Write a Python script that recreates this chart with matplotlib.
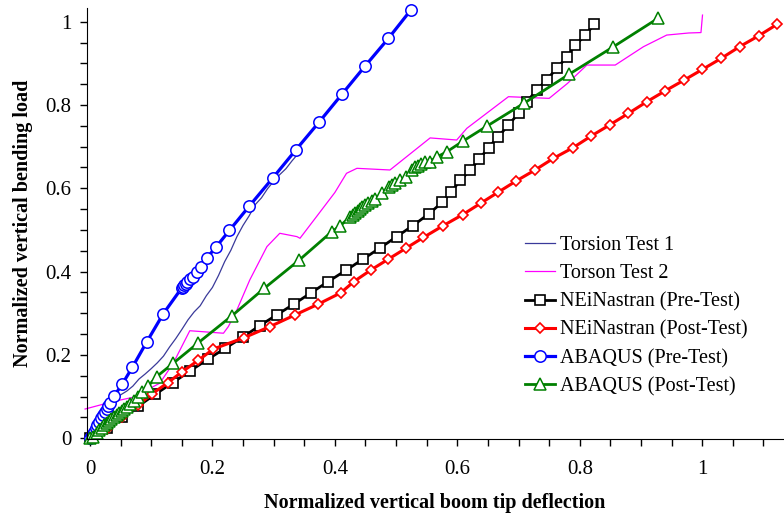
import matplotlib
matplotlib.use("Agg")
import matplotlib.pyplot as plt
from matplotlib.ticker import MultipleLocator

plt.rcParams['font.family'] = ['Liberation Serif', 'DejaVu Serif']

# Torsion Test 1 (thin navy line)
t1_x = [0.0, 0.01, 0.02, 0.03, 0.04, 0.05, 0.06, 0.07, 0.08, 0.09, 0.10, 0.11, 0.12, 0.13,
        0.14, 0.15, 0.16, 0.17, 0.18, 0.19, 0.20, 0.21, 0.22, 0.23, 0.24, 0.25, 0.26, 0.27,
        0.28, 0.29, 0.30, 0.31, 0.32, 0.33, 0.337]
t1_y = [0.0, 0.026, 0.05, 0.071, 0.089, 0.104, 0.113, 0.125, 0.142, 0.154, 0.167, 0.181,
        0.197, 0.219, 0.239, 0.261, 0.284, 0.303, 0.318, 0.342, 0.362, 0.391, 0.424, 0.451,
        0.484, 0.511, 0.534, 0.561, 0.577, 0.599, 0.617, 0.633, 0.647, 0.666, 0.678]

# Torson Test 2 (thin magenta line)
t2_x = [-0.008, 0.038, 0.07, 0.114, 0.136, 0.163, 0.218, 0.226, 0.24, 0.261, 0.289, 0.31,
        0.338, 0.343, 0.37, 0.40, 0.419, 0.436, 0.49, 0.5556, 0.599, 0.6155, 0.6835, 0.75,
        0.78, 0.8116, 0.858, 0.904, 0.942, 0.978, 0.998, 1.0005]
t2_y = [0.070, 0.088, 0.098, 0.132, 0.18, 0.258, 0.252, 0.268, 0.308, 0.38, 0.46, 0.492,
        0.484, 0.48, 0.532, 0.59, 0.636, 0.648, 0.644, 0.721, 0.716, 0.744, 0.82, 0.816,
        0.852, 0.896, 0.896, 0.94, 0.968, 0.973, 0.974, 1.016]

# NEiNastran (Pre-Test)
nei_pre_x = [0.0, 0.027, 0.052, 0.079, 0.106, 0.135, 0.163, 0.192, 0.221, 0.25, 0.277,
             0.305, 0.333, 0.361, 0.389, 0.418, 0.446, 0.474, 0.501, 0.527, 0.553, 0.575,
             0.590, 0.605, 0.621, 0.636, 0.651, 0.667, 0.6835, 0.700, 0.7135, 0.730, 0.746,
             0.7626, 0.779, 0.7925, 0.809, 0.824]
nei_pre_y = [0.0, 0.024, 0.05, 0.077, 0.105, 0.133, 0.161, 0.189, 0.216, 0.243, 0.27,
             0.296, 0.322, 0.349, 0.376, 0.403, 0.43, 0.457, 0.484, 0.51, 0.538, 0.566,
             0.592, 0.619, 0.644, 0.670, 0.698, 0.724, 0.752, 0.780, 0.808, 0.836, 0.861,
             0.888, 0.916, 0.943, 0.968, 0.994]

# NEiNastran (Post-Test)
nei_post_x = [0.0, 0.027, 0.053, 0.078, 0.102, 0.127, 0.151, 0.177, 0.2015, 0.252, 0.294,
              0.335, 0.373, 0.4096, 0.431, 0.459, 0.4874, 0.516, 0.5446, 0.576, 0.609,
              0.638, 0.666, 0.696, 0.727, 0.757, 0.789, 0.8186, 0.8486, 0.8796, 0.9096,
              0.9395, 0.9706, 1.0005, 1.031, 1.061, 1.092, 1.122]
nei_post_y = [0.0, 0.022, 0.051, 0.079, 0.107, 0.133, 0.160, 0.187, 0.214, 0.2415, 0.268,
              0.296, 0.322, 0.349, 0.376, 0.404, 0.430, 0.456, 0.482, 0.5095, 0.537,
              0.564, 0.590, 0.6175, 0.644, 0.672, 0.6975, 0.7255, 0.752, 0.780, 0.808,
              0.834, 0.860, 0.8856, 0.912, 0.940, 0.966, 0.9935]

# ABAQUS (Pre-Test)
abq_pre_x = [0.0, 0.003, 0.006, 0.009, 0.012, 0.015, 0.018, 0.021, 0.024, 0.027, 0.030,
             0.0327, 0.0397, 0.0528, 0.0691, 0.0926, 0.1198, 0.150, 0.152, 0.154, 0.156,
             0.158, 0.163, 0.168, 0.174, 0.181, 0.1907, 0.2064, 0.2276, 0.2603, 0.2985,
             0.3361, 0.3742, 0.4113, 0.4493, 0.4874, 0.524]
abq_pre_y = [0.0, 0.008, 0.016, 0.024, 0.032, 0.040, 0.048, 0.056, 0.064, 0.071, 0.078,
             0.0847, 0.102, 0.130, 0.170, 0.231, 0.299, 0.361, 0.364, 0.367, 0.370,
             0.374, 0.382, 0.388, 0.398, 0.410, 0.4327, 0.4598, 0.4987, 0.5575, 0.6247,
             0.692, 0.759, 0.8255, 0.8935, 0.960, 1.028]

# ABAQUS (Post-Test)
abq_post_x = [0.0, 0.005, 0.011, 0.015, 0.019, 0.023, 0.027, 0.031, 0.035, 0.040, 0.044,
              0.048, 0.052, 0.056, 0.060, 0.066, 0.072, 0.078, 0.085, 0.095, 0.109, 0.136,
              0.176, 0.2315, 0.2848, 0.342, 0.395, 0.4085, 0.425, 0.429, 0.433, 0.437,
              0.441, 0.445, 0.449, 0.454, 0.460, 0.466, 0.4766, 0.488, 0.493, 0.498,
              0.5065, 0.516, 0.526, 0.531, 0.536, 0.541, 0.547, 0.555, 0.5665, 0.583,
              0.61, 0.648, 0.7097, 0.7827, 0.855, 0.9276]
abq_post_y = [0.0, 0.004, 0.012, 0.019, 0.0255, 0.031, 0.036, 0.041, 0.046, 0.051, 0.055,
              0.060, 0.065, 0.070, 0.076, 0.083, 0.090, 0.099, 0.110, 0.125, 0.148, 0.180,
              0.228, 0.2935, 0.360, 0.428, 0.496, 0.5095, 0.532, 0.537, 0.541, 0.546,
              0.550, 0.555, 0.559, 0.564, 0.570, 0.575, 0.588, 0.603, 0.608, 0.612,
              0.620, 0.628, 0.645, 0.650, 0.654, 0.658, 0.662, 0.664, 0.675, 0.688,
              0.714, 0.749, 0.805, 0.874, 0.940, 1.008]

labels = ["Torsion Test 1", "Torson Test 2", "NEiNastran (Pre-Test)",
          "NEiNastran (Post-Test)", "ABAQUS (Pre-Test)", "ABAQUS (Post-Test)"]
tick_vals = [0, 0.2, 0.4, 0.6, 0.8, 1.0]
tick_text = ['0', '0.2', '0.4', '0.6', '0.8', '1']

W, H = 784, 514
fig = plt.figure(figsize=(W / 100, H / 100), dpi=100)
ax = fig.add_axes([86.7 / W, 1 - 439 / H, (783 - 86.7) / W, (439 - 8) / H])

ax.plot(t1_x, t1_y, color='#3a3a9a', lw=0.9, label=labels[0], clip_on=False)
ax.plot(t2_x, t2_y, color='#ff00ff', lw=0.9, label=labels[1], clip_on=False)
ax.plot(nei_pre_x, nei_pre_y, color='black', lw=2.0, marker='s', ms=7.2,
        mfc='white', mec='black', mew=1.2, label=labels[2], clip_on=False)
ax.plot(nei_post_x, nei_post_y, color='#ff0000', lw=2.2, marker='D', ms=5.2,
        mfc='white', mec='#ff0000', mew=1.2, label=labels[3], clip_on=False)
ax.plot(abq_pre_x, abq_pre_y, color='#0000ff', lw=2.3, marker='o', ms=8.2,
        mfc='white', mec='#0000ff', mew=1.1, label=labels[4], clip_on=False)
ax.plot(abq_post_x, abq_post_y, color='#008000', lw=2.0, marker='^', ms=8.0,
        mfc='white', mec='#008000', mew=1.1, label=labels[5], clip_on=False)

ax.set_xlim(-0.0054, 1.132)
ax.set_ylim(-0.002, 1.033)
ax.spines['top'].set_visible(False)
ax.spines['right'].set_visible(False)
ax.xaxis.set_minor_locator(MultipleLocator(0.05))
ax.yaxis.set_minor_locator(MultipleLocator(0.05))
ax.set_xticks(tick_vals)
ax.set_xticklabels(tick_text)
ax.set_yticks(tick_vals)
ax.set_yticklabels(tick_text)
ax.tick_params(which='both', direction='out', labelsize=15, width=1.0, length=5)
ax.tick_params(axis='x', pad=10)
ax.tick_params(axis='y', pad=6)

ax.set_xlabel("Normalized vertical boom tip deflection", fontsize=14.5,
              fontweight='bold', labelpad=10)
ax.set_ylabel("Normalized vertical bending load", fontsize=14.5,
              fontweight='bold', labelpad=9)

leg = fig.legend(loc='upper left', bbox_to_anchor=(525 / W, 1 - 236 / H),
                 frameon=False, fontsize=14.5, handlelength=1.5, handletextpad=0.25,
                 labelspacing=0.45, borderpad=0, borderaxespad=0)

fig.savefig("out.png", dpi=100)
